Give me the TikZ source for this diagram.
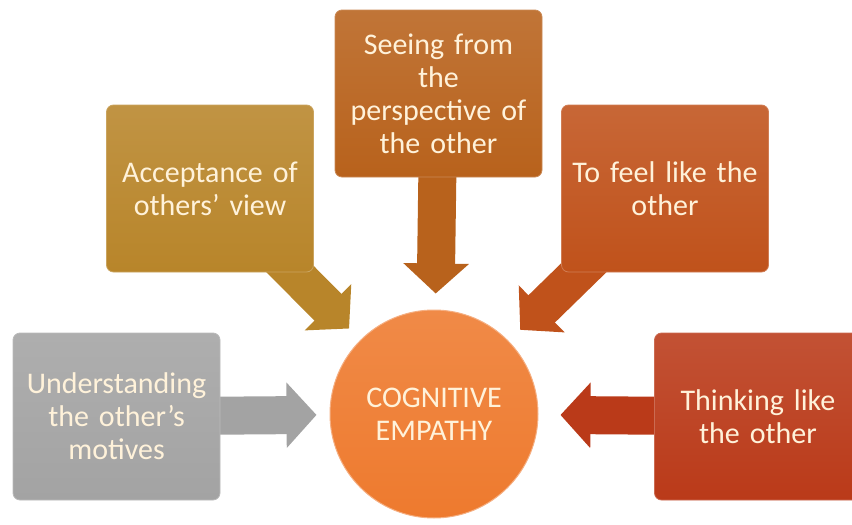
\documentclass[tikz,border=0pt]{standalone}
\usepackage{fontspec}
\setmainfont{Carlito}
\usepackage{xcolor}
\definecolor{empGrey}{HTML}{A3A3A3}
\definecolor{empGold}{HTML}{B8852A}
\definecolor{empAmber}{HTML}{B8621C}
\definecolor{empRust}{HTML}{C0521B}
\definecolor{empRed}{HTML}{BA3A19}
\definecolor{empCore}{HTML}{EE7A2E}
\definecolor{empText}{HTML}{FFF2DA}
\usetikzlibrary{arrows.meta,backgrounds}
\tikzset{
  viewBox/.style={rounded corners=7pt, minimum width=207pt, minimum height=167pt,
    text width=200pt, align=center, inner sep=0pt, text=empText,
    font=\fontsize{30}{33}\selectfont,
    top color=#1!88!white, bottom color=#1, draw=#1!75!white, line width=0.8pt},
  viewArrow/.style={line width=38pt, draw=#1,
    -{Triangle[length=30pt,width=64pt]}, shorten >=16pt},
}

\begin{document}
\begin{tikzpicture}[x=1pt,y=-1pt]
  \useasboundingbox (0,0) rectangle (852,525);
  \clip (0,0) rectangle (852,525);
  \node[circle, minimum size=208pt, inner sep=0pt, align=center, text=empText,
    font=\fontsize{30}{33}\selectfont, top color=empCore!88!white, bottom color=empCore,
    draw=empCore!60!white, line width=1pt] (core) at (434,414) {COGNITIVE\\EMPATHY};
  \node[viewBox=empGrey] (motives) at (116.5,416.5) {Understanding\\the other's\\motives};
  \node[viewBox=empGold] (accept) at (210,188.5) {Acceptance of\\others' view};
  \node[viewBox=empAmber] (seeing) at (438.5,93.5) {Seeing from\\the\\perspective of\\the other};
  \node[viewBox=empRust] (feel) at (665,188.5) {To feel like the\\other};
  \node[viewBox=empRed] (thinking) at (758,416.5) {Thinking like\\the other};
  \begin{scope}[on background layer]
    \draw[viewArrow=empGrey, shorten >=13pt] (motives.center) -- (core);
    \draw[viewArrow=empGold] (accept.center) -- (core);
    \draw[viewArrow=empAmber] (seeing.center) -- (core);
    \draw[viewArrow=empRust] (feel.center) -- (core);
    \draw[viewArrow=empRed, shorten >=22pt] (thinking.center) -- (core);
  \end{scope}
\end{tikzpicture}
\end{document}
